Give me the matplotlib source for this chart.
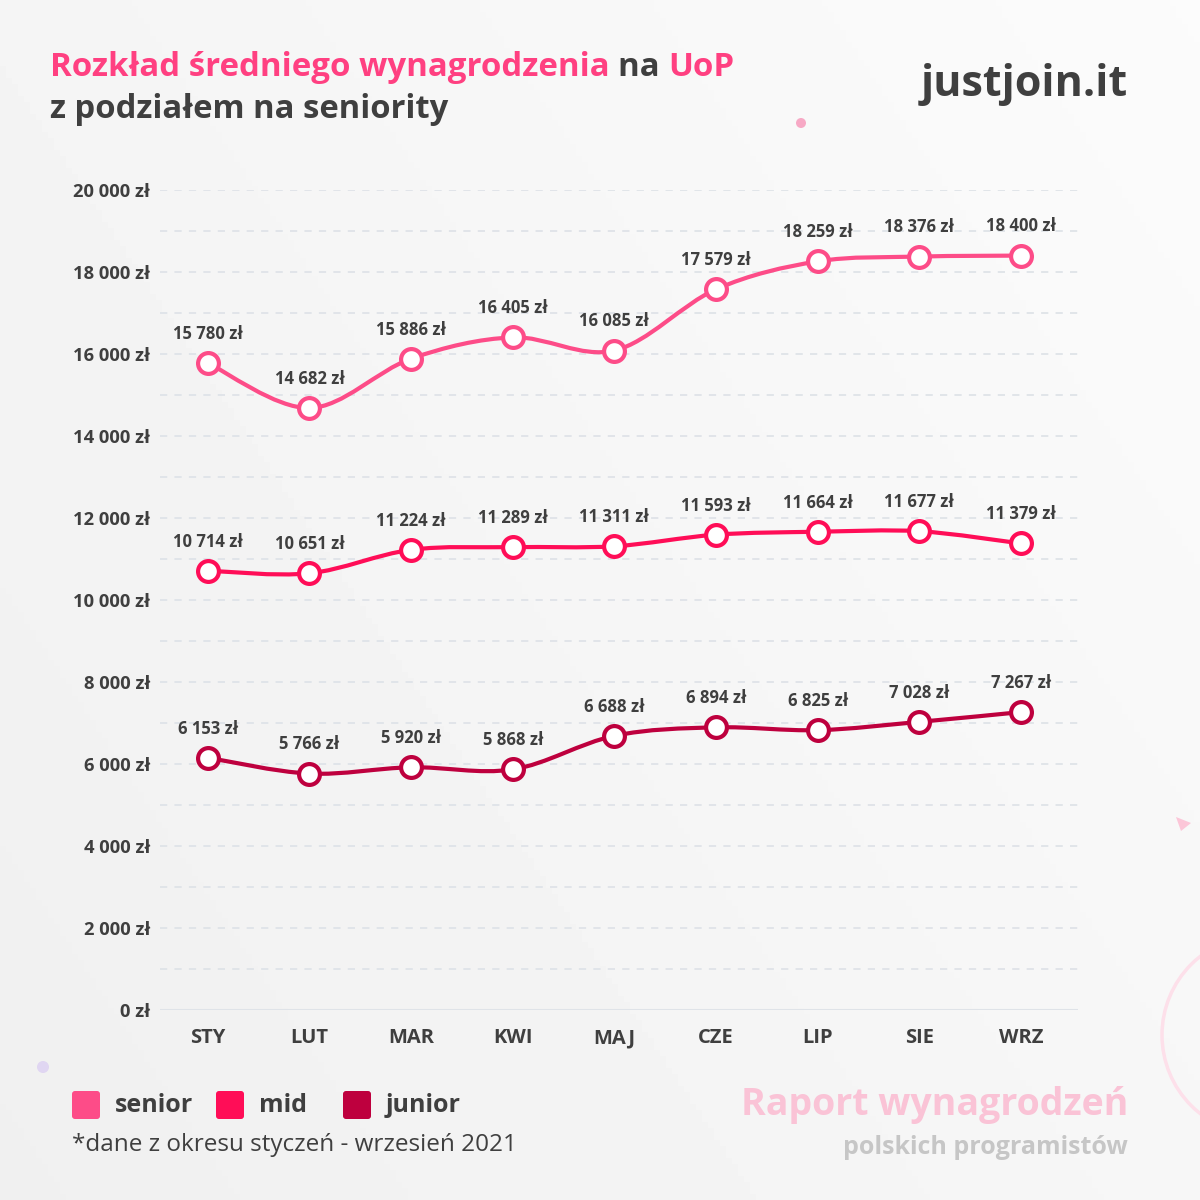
import matplotlib
matplotlib.use("Agg")
import matplotlib.pyplot as plt
import numpy as np
from matplotlib.path import Path
from matplotlib.patches import PathPatch, FancyBboxPatch, Circle, Polygon

plt.rcParams['font.family'] = ['Open Sans', 'DejaVu Sans']

months = ["STY", "LUT", "MAR", "KWI", "MAJ", "CZE", "LIP", "SIE", "WRZ"]
senior = [15780, 14682, 15886, 16405, 16085, 17579, 18259, 18376, 18400]
mid = [10714, 10651, 11224, 11289, 11311, 11593, 11664, 11677, 11379]
junior = [6153, 5766, 5920, 5868, 6688, 6894, 6825, 7028, 7267]
series_names = ["senior", "mid", "junior"]
colors = ["#fd4c88", "#ff0d57", "#be003e"]

DARK = "#3f3f3f"


def zl(v):
    return "{:,}".format(int(v)).replace(",", " ") + " zł"


def smooth_path(xs, ys):
    # catmull-rom -> cubic bezier
    pts = np.column_stack([xs, ys]).astype(float)
    verts = [pts[0]]
    codes = [Path.MOVETO]
    n = len(pts)
    for i in range(n - 1):
        p0 = pts[i - 1] if i > 0 else pts[i]
        p1 = pts[i]
        p2 = pts[i + 1]
        p3 = pts[i + 2] if i + 2 < n else pts[i + 1]
        c1 = p1 + (p2 - p0) / 6
        c2 = p2 - (p3 - p1) / 6
        verts += [c1, c2, p2]
        codes += [Path.CURVE4] * 3
    return Path(verts, codes)


fig = plt.figure(figsize=(12, 12), dpi=100)

# background
bg = fig.add_axes([0, 0, 1, 1], zorder=-10)
gx, gy = np.meshgrid(np.linspace(0, 1, 200), np.linspace(0, 1, 200))
grad = 0.94 + 0.045 * (0.6 * gx + 0.4 * (1 - gy))
bg.imshow(grad, cmap="gray", vmin=0, vmax=1, extent=[0, 1200, 1200, 0], aspect="auto")
bg.set_xlim(0, 1200)
bg.set_ylim(1200, 0)
bg.axis("off")
bg.add_patch(Circle((801, 123), 5, color="#f7a9c5", lw=0))
bg.add_patch(Circle((43, 1067), 6, color="#e0d6f2", lw=0))
bg.add_patch(Polygon([[1176, 817], [1191, 823], [1181, 831]], closed=True, color="#fcc6d8", lw=0))
bg.add_patch(Circle((1262, 1035), 100, fill=False, ec="#fde0ea", lw=2.5))

ax = fig.add_axes([160 / 1200, 1 - 1010 / 1200, (1078 - 160) / 1200, 820 / 1200])
ax.patch.set_alpha(0)
x = np.arange(len(months))
ax.set_xlim(-0.47, 8.56)
ax.set_ylim(0, 20000)

ax.set_yticks(np.arange(0, 20001, 2000))
ax.set_yticks(np.arange(1000, 20000, 2000), minor=True)
ax.set_yticklabels([zl(v) for v in np.arange(0, 20001, 2000)])
ax.yaxis.grid(True, which="both", color="#dfe3e8", lw=1.3, ls=(0, (4, 4)))
ax.axhline(0, color="#dfe3e8", lw=1.5)
ax.set_axisbelow(True)
ax.tick_params(axis="y", which="both", length=0, pad=7, labelsize=13.2, labelcolor=DARK)
ax.tick_params(axis="x", length=0, pad=13, labelsize=14.5, labelcolor=DARK)
for lab in ax.get_yticklabels():
    lab.set_fontweight("bold")
ax.set_xticks(x)
ax.set_xticklabels(months, fontweight="bold")
for s in ax.spines.values():
    s.set_visible(False)

for vals, c in zip([senior, mid, junior], colors):
    ax.add_patch(PathPatch(smooth_path(x, vals), fill=False, ec=c, lw=3, zorder=3))
    ax.plot(x, vals, ls="none", marker="o", ms=15, mfc="white", mec=c, mew=3, zorder=4)
    for xi, v in zip(x, vals):
        ax.annotate(zl(v), (xi, v), xytext=(0, 21), textcoords="offset points",
                    ha="center", va="center", fontsize=12, fontweight="bold", color=DARK)


def px(xp, yp):
    return xp / 1200, 1 - yp / 1200


# title with mixed colours
fig.canvas.draw()
renderer = fig.canvas.get_renderer()
PINK = "#ff4081"
parts = [("Rozkład średniego wynagrodzenia ", PINK), ("na ", DARK), ("UoP", PINK)]
xcur = 50
for txt, c in parts:
    t = fig.text(*px(xcur, 76), txt, fontsize=23.8, fontweight="bold", color=c, va="baseline")
    bb = t.get_window_extent(renderer)
    xcur += bb.width
fig.text(*px(50, 118), "z podziałem na seniority", fontsize=23.6, fontweight="bold", color=DARK, va="baseline")

fig.text(*px(1128, 85), "justjoin.it", fontsize=31, fontweight="bold", color=DARK, ha="right", va="center")

# legend
leg_x = [72, 216, 343]
for lx, name, c in zip(leg_x, series_names, colors):
    bg.add_patch(FancyBboxPatch((lx + 3, 1094), 22, 22, boxstyle="round,pad=3", fc=c, ec="none"))
    fig.text(*px(lx + 43, 1105), name, fontsize=18, fontweight="bold", color=DARK, va="center")

fig.text(*px(72, 1145), "*dane z okresu styczeń - wrzesień 2021", fontsize=17.5, color=DARK, va="center")

fig.text(*px(1128, 1105), "Raport wynagrodzeń", fontsize=27, fontweight="bold", color="#fac3d6", ha="right", va="center")
fig.text(*px(1128, 1147), "polskich programistów", fontsize=18, fontweight="bold", color="#c6c6c6", ha="right", va="center")

fig.savefig("out.png", dpi=100)
